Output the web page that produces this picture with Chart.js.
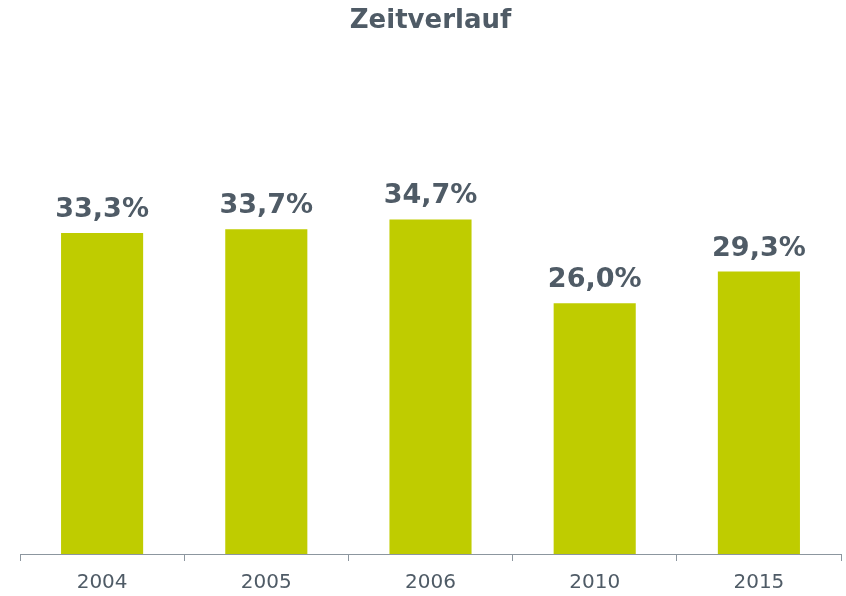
<!DOCTYPE html>
<html>
<head>
<meta charset="utf-8">
<script src="https://cdn.jsdelivr.net/npm/chart.js@4/dist/chart.umd.min.js"></script>
<style>
html,body{margin:0;padding:0;background:#fff;}
#wrap{width:846px;height:596px;}
</style>
</head>
<body>
<div id="wrap"><canvas id="c" width="846" height="596"></canvas></div>
<script>
const categories = ["2004", "2005", "2006", "2010", "2015"];
const values = [33.3, 33.7, 34.7, 26.0, 29.3];
const titleText = "Zeitverlauf";

const TEXT = "#4f5b66";
const BAR = "#bfcc00";
const AXIS = "#8c969f";
const FONT = "'DejaVu Sans', Verdana, sans-serif";

const valueLabels = {
  id: 'valueLabels',
  afterDatasetsDraw(chart) {
    const ctx = chart.ctx;
    const meta = chart.getDatasetMeta(0);
    ctx.save();
    ctx.fillStyle = TEXT;
    ctx.font = "bold 27px " + FONT;
    ctx.textAlign = "center";
    ctx.textBaseline = "alphabetic";
    meta.data.forEach((bar, i) => {
      const v = chart.data.datasets[0].data[i];
      const s = v.toFixed(1).replace('.', ',') + '%';
      ctx.fillText(s, bar.x, bar.y - 16);
    });
    ctx.restore();
  }
};

new Chart(document.getElementById('c'), {
  type: 'bar',
  data: {
    labels: categories,
    datasets: [{
      data: values,
      backgroundColor: BAR,
      borderWidth: 0,
      barPercentage: 0.5,
      categoryPercentage: 1.0
    }]
  },
  options: {
    responsive: false,
    animation: false,
    layout: { padding: { left: 20, right: 5, top: 0, bottom: -8 } },
    plugins: {
      legend: { display: false },
      tooltip: { enabled: false },
      title: {
        display: true,
        text: titleText,
        color: TEXT,
        font: { family: FONT, size: 26, weight: 'bold', lineHeight: 1.2 },
        padding: { top: 5.6, bottom: 35.2 }
      }
    },
    scales: {
      x: {
        border: { display: true, color: AXIS, width: 1 },
        grid: {
          display: true,
          drawOnChartArea: false,
          drawTicks: true,
          tickLength: 7,
          color: AXIS,
          offset: true
        },
        ticks: {
          color: TEXT,
          font: { family: FONT, size: 20, lineHeight: 0.75 },
          padding: 14
        }
      },
      y: {
        display: false,
        min: 0,
        max: 50
      }
    }
  },
  plugins: [valueLabels]
});
</script>
</body>
</html>
